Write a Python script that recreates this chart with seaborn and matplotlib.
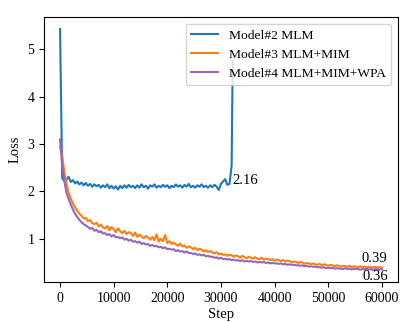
import numpy as np
import pandas as pd
import matplotlib
matplotlib.use("Agg")
import matplotlib.pyplot as plt
import seaborn as sns

# ---------------- data ----------------
labels = ["Model#2 MLM", "Model#3 MLM+MIM", "Model#4 MLM+MIM+WPA"]
colors = ["#1f77b4", "#ff7f0e", "#9467bd"]

steps_mlm = list(range(0, 32001, 400)) + [32200]
loss_mlm = [
    5.43, 2.28, 2.22, 2.25, 2.31, 2.20, 2.24, 2.17, 2.21, 2.15,
    2.19, 2.13, 2.18, 2.12, 2.16, 2.10, 2.15, 2.11, 2.14, 2.08,
    2.13, 2.09, 2.15, 2.07, 2.12, 2.06, 2.11, 2.04, 2.12, 2.07,
    2.13, 2.08, 2.14, 2.09, 2.12, 2.07, 2.13, 2.08, 2.15, 2.09,
    2.12, 2.06, 2.13, 2.10, 2.15, 2.08, 2.12, 2.09, 2.14, 2.10,
    2.13, 2.07, 2.12, 2.09, 2.15, 2.10, 2.13, 2.08, 2.14, 2.10,
    2.16, 2.09, 2.12, 2.08, 2.13, 2.10, 2.15, 2.09, 2.12, 2.08,
    2.13, 2.09, 2.14, 2.10, 2.03, 2.16, 2.21, 2.26, 2.14, 2.16,
    2.55, 4.75,
]

steps_long = list(range(0, 60001, 400))
loss_mim = [
    2.95, 2.76, 2.40, 2.16, 1.97, 1.85, 1.74, 1.66, 1.59, 1.53, 1.49,
    1.43, 1.44, 1.37, 1.40, 1.33, 1.31, 1.34, 1.26, 1.30, 1.24,
    1.22, 1.27, 1.18, 1.25, 1.20, 1.14, 1.22, 1.16, 1.12, 1.17,
    1.10, 1.14, 1.12, 1.06, 1.13, 1.04, 1.09, 1.05, 1.01, 1.06,
    1.03, 0.98, 1.04, 0.97, 1.09, 0.94, 1.00, 0.95, 1.08, 0.91,
    0.95, 0.89, 0.92, 0.88, 0.85, 0.90, 0.84, 0.86, 0.81, 0.84,
    0.82, 0.78, 0.81, 0.76, 0.79, 0.77, 0.73, 0.76, 0.72, 0.74,
    0.71, 0.69, 0.72, 0.67, 0.69, 0.66, 0.67, 0.64, 0.66, 0.65,
    0.62, 0.65, 0.63, 0.60, 0.64, 0.61, 0.59, 0.62, 0.60, 0.58,
    0.61, 0.58, 0.57, 0.60, 0.56, 0.58, 0.57, 0.55, 0.57, 0.54,
    0.56, 0.55, 0.53, 0.55, 0.52, 0.54, 0.53, 0.50, 0.52, 0.51,
    0.49, 0.51, 0.50, 0.47, 0.49, 0.48, 0.46, 0.48, 0.46, 0.45,
    0.47, 0.44, 0.46, 0.45, 0.43, 0.45, 0.44, 0.42, 0.44, 0.43,
    0.41, 0.43, 0.42, 0.41, 0.43, 0.40, 0.42, 0.41, 0.40, 0.42,
    0.40, 0.41, 0.39, 0.41, 0.40, 0.39, 0.41, 0.39, 0.40, 0.39,
]
loss_wpa = [
    3.10, 2.55, 2.22, 1.97, 1.84, 1.72, 1.62, 1.53, 1.46, 1.40, 1.35,
    1.31, 1.28, 1.25, 1.21, 1.23, 1.17, 1.19, 1.14, 1.16, 1.11,
    1.12, 1.08, 1.10, 1.05, 1.08, 1.03, 1.04, 1.01, 1.03, 0.98,
    1.00, 0.96, 0.98, 0.94, 0.95, 0.92, 0.94, 0.89, 0.91, 0.88,
    0.89, 0.85, 0.87, 0.84, 0.85, 0.82, 0.83, 0.80, 0.82, 0.78,
    0.79, 0.77, 0.78, 0.74, 0.76, 0.73, 0.74, 0.71, 0.73, 0.70,
    0.70, 0.68, 0.69, 0.66, 0.67, 0.65, 0.66, 0.63, 0.64, 0.62,
    0.62, 0.60, 0.61, 0.58, 0.60, 0.57, 0.58, 0.56, 0.57, 0.55,
    0.56, 0.54, 0.55, 0.53, 0.55, 0.52, 0.53, 0.52, 0.53, 0.51,
    0.52, 0.50, 0.51, 0.50, 0.51, 0.49, 0.50, 0.48, 0.49, 0.48,
    0.48, 0.47, 0.48, 0.46, 0.47, 0.45, 0.46, 0.45, 0.45, 0.44,
    0.44, 0.43, 0.44, 0.42, 0.43, 0.41, 0.42, 0.41, 0.41, 0.40,
    0.40, 0.39, 0.40, 0.38, 0.39, 0.38, 0.39, 0.37, 0.38, 0.37,
    0.37, 0.36, 0.38, 0.36, 0.37, 0.35, 0.37, 0.36, 0.36, 0.35,
    0.36, 0.35, 0.37, 0.35, 0.36, 0.34, 0.36, 0.35, 0.35, 0.36,
]

# annotation values
note_mlm = 2.16
note_mim = 0.39
note_wpa = 0.36

# ---------------- plotting ----------------
plt.rcParams["font.family"] = ["Liberation Serif", "DejaVu Serif"]

fig = plt.figure(figsize=(4.11, 3.22), dpi=100)
ax = fig.add_axes([0.107, 0.124, 0.861, 0.823])

series = [(steps_mlm, loss_mlm), (steps_long, loss_mim), (steps_long, loss_wpa)]
for (xs, ys), lab, col in zip(series, labels, colors):
    df = pd.DataFrame({"Step": xs, "Loss": ys})
    sns.lineplot(data=df, x="Step", y="Loss", ax=ax, color=col, label=lab,
                 linewidth=1.5, estimator=None)

ax.set_xlabel("Step", fontsize=10.5, labelpad=2)
ax.set_ylabel("Loss", fontsize=10.5)
ax.tick_params(labelsize=10)
ax.set_xticks([0, 10000, 20000, 30000, 40000, 50000, 60000])

ax.annotate(f"{note_mlm:.2f}", xy=(steps_mlm[-3], note_mlm), xytext=(2, 0),
            textcoords="offset points", ha="left", va="baseline", fontsize=10.5)
ax.annotate(f"{note_mim:.2f}", xy=(steps_long[-1], note_mim), xytext=(-5, 4),
            textcoords="offset points", ha="center", va="baseline", fontsize=10.5)
ax.annotate(f"{note_wpa:.2f}", xy=(steps_long[-1], note_wpa), xytext=(-5, -8),
            textcoords="offset points", ha="center", va="baseline", fontsize=10.5)

ax.legend(loc="upper right", fontsize=9.7)

fig.savefig("out.png", dpi=100)
